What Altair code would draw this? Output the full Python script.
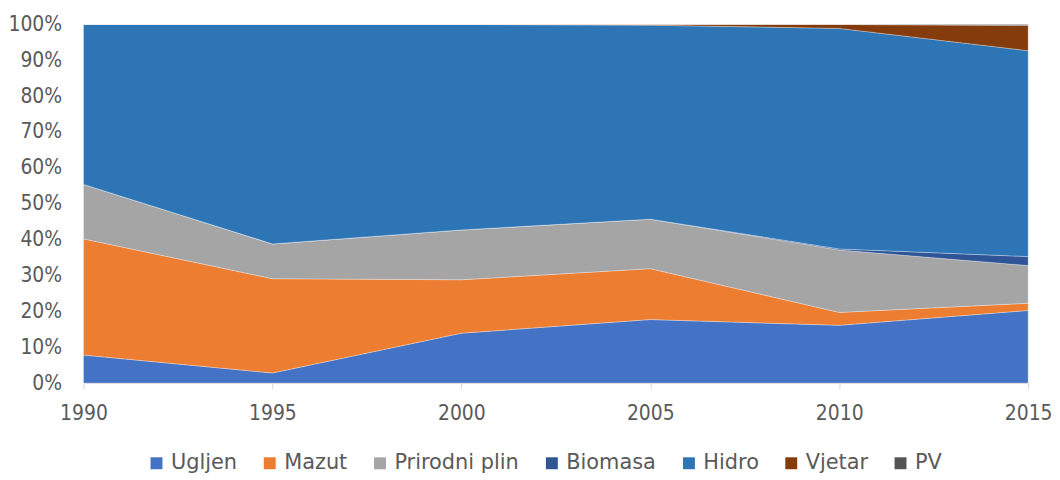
import altair as alt
import pandas as pd

years = [1990, 1995, 2000, 2005, 2010, 2015]
series = ["Ugljen", "Mazut", "Prirodni plin", "Biomasa", "Hidro", "Vjetar", "PV"]
ugljen = [7.8, 2.8, 13.9, 17.7, 16.1, 20.2]
mazut = [32.4, 26.3, 14.9, 14.2, 3.6, 2.0]
plin = [15.2, 9.7, 13.9, 13.8, 17.4, 10.5]
biomasa = [0.0, 0.0, 0.0, 0.0, 0.3, 2.5]
hidro = [44.6, 61.2, 57.3, 54.1, 61.5, 57.3]
vjetar = [0.0, 0.0, 0.0, 0.2, 1.1, 7.0]
pv = [0.0, 0.0, 0.0, 0.0, 0.0, 0.3]
colors = ["#4472C4", "#ED7D31", "#A5A5A5", "#2F5597", "#2E75B6", "#843C0C", "#545454"]

vals = [ugljen, mazut, plin, biomasa, hidro, vjetar, pv]
rows = []
for i, (name, v) in enumerate(zip(series, vals)):
    for y, x in zip(years, v):
        rows.append({"year": y, "series": name, "value": x, "ord": i})
df = pd.DataFrame(rows)

FONT = "'DejaVu Sans Condensed', Roboto, sans-serif"
LFONT = "'DejaVu Sans', sans-serif"
TXT = "#595959"

chart = alt.Chart(df).mark_area(stroke="#ffffff", strokeWidth=0.6, strokeOpacity=0.5).encode(
    x=alt.X("year:Q", scale=alt.Scale(domain=[1990, 2015], nice=False, zero=False),
            axis=alt.Axis(values=years, format="d", title=None, grid=False, labelFlush=False,
                          labelOverlap=False, domainColor="#d9d9d9", tickColor="#d9d9d9",
                          tickSize=6, labelPadding=14, labelFontSize=21, labelColor=TXT,
                          labelFont=FONT)),
    y=alt.Y("value:Q", stack="normalize",
            scale=alt.Scale(domain=[0, 1]),
            axis=alt.Axis(values=[i / 10 for i in range(11)], format=".0%", title=None,
                          grid=False, domain=False, ticks=False, labelPadding=22,
                          labelFontSize=21, labelColor=TXT, labelFont=FONT)),
    color=alt.Color("series:N", scale=alt.Scale(domain=series, range=colors),
                    legend=alt.Legend(title=None, orient="none", direction="horizontal",
                                      legendX=63, legendY=431,
                                      symbolType="square", symbolSize=144, symbolStrokeWidth=0,
                                      labelFontSize=21, labelColor=TXT, labelFont=LFONT,
                                      columnPadding=22, labelOffset=4)),
    order=alt.Order("ord:Q", sort="ascending"),
).properties(
    width=951, height=361,
    autosize=alt.AutoSizeParams(type="none"),
    padding={"left": 76, "top": 15, "right": 24, "bottom": 90},
).configure_view(stroke=None)

chart.save("out.html", embed_options={"renderer": "svg", "actions": False})
